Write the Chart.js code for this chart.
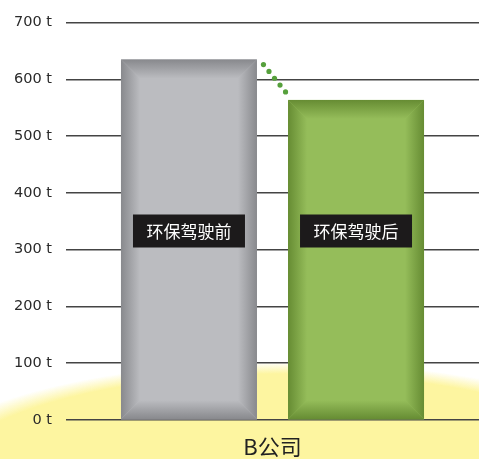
<!DOCTYPE html>
<html>
<head>
<meta charset="utf-8">
<script src="https://cdn.jsdelivr.net/npm/chart.js@4"></script>
<style>
  html, body { margin: 0; padding: 0; background: #fff; }
  #wrap { width: 479px; height: 459px; }
</style>
</head>
<body>
<div id="wrap"><canvas id="chart" width="479" height="459"></canvas></div>
<script>
// Data
const categories = ['B公司'];
const seriesNames = ['环保驾驶前', '环保驾驶后'];
const beforeValues = [635];
const afterValues = [564];
const tickValues = [0, 100, 200, 300, 400, 500, 600, 700];

const faceColors = ['#bbbcc0', '#95bd5a'];
const edgeColors = ['#88898d', '#668c33'];

// Soft yellow glow behind the bottom of the chart
const glowPlugin = {
    id: 'glow',
    beforeDraw(chart) {
        const ctx = chart.ctx;
        ctx.save();
        ctx.translate(285, 480);
        ctx.scale(1, 118 / 380);
        const g = ctx.createRadialGradient(0, 0, 0, 0, 0, 380);
        g.addColorStop(0, 'rgba(253,245,160,1)');
        g.addColorStop(0.9, 'rgba(253,245,160,1)');
        g.addColorStop(1, 'rgba(253,245,160,0)');
        ctx.fillStyle = g;
        ctx.beginPath();
        ctx.arc(0, 0, 380, 0, Math.PI * 2);
        ctx.fill();
        ctx.restore();
    }
};

function bevel(ctx, x0, y0, x1, y1, face, edge, w) {
    ctx.fillStyle = face;
    ctx.fillRect(x0, y0, x1 - x0, y1 - y0);
    const sides = [
        // top
        { pts: [[x0, y0], [x1, y0], [x1 - w, y0 + w], [x0 + w, y0 + w]], g: [x0, y0, x0, y0 + w] },
        // bottom
        { pts: [[x0, y1], [x1, y1], [x1 - w, y1 - w], [x0 + w, y1 - w]], g: [x0, y1, x0, y1 - w] },
        // left
        { pts: [[x0, y0], [x0 + w, y0 + w], [x0 + w, y1 - w], [x0, y1]], g: [x0, y0, x0 + w, y0] },
        // right
        { pts: [[x1, y0], [x1 - w, y0 + w], [x1 - w, y1 - w], [x1, y1]], g: [x1, y0, x1 - w, y0] }
    ];
    sides.forEach(s => {
        const gr = ctx.createLinearGradient(...s.g);
        gr.addColorStop(0, edge);
        gr.addColorStop(1, face);
        ctx.fillStyle = gr;
        ctx.beginPath();
        ctx.moveTo(...s.pts[0]);
        for (let i = 1; i < s.pts.length; i++) ctx.lineTo(...s.pts[i]);
        ctx.closePath();
        ctx.fill();
    });
}

// Bevelled bars, name tags and the dotted connector
const decorPlugin = {
    id: 'decor',
    afterDatasetsDraw(chart) {
        const ctx = chart.ctx;
        const yScale = chart.scales.y;
        const bars = chart.data.datasets.map((ds, i) => chart.getDatasetMeta(i).data[0]);
        ctx.save();
        bars.forEach((b, i) => {
            const x0 = b.x - b.width / 2, x1 = b.x + b.width / 2;
            bevel(ctx, x0, b.y, x1, b.base, faceColors[i], edgeColors[i], 19);
        });
        // name tags
        const tagY = yScale.getPixelForValue(333);
        bars.forEach((b, i) => {
            ctx.fillStyle = '#1c1a1b';
            ctx.fillRect(b.x - 56, tagY - 16.5, 112, 33);
            ctx.fillStyle = '#ffffff';
            ctx.font = '17px "Noto Sans CJK SC"';
            ctx.textAlign = 'center';
            ctx.textBaseline = 'middle';
            ctx.fillText(chart.data.datasets[i].label, b.x, tagY + 1);
        });
        // dotted connector between bar tops
        const a = bars[0], c = bars[1];
        const sx = a.x + a.width / 2 + 6.5, sy = a.y + 5;
        const ex = c.x - c.width / 2 - 2.5, ey = c.y - 8;
        ctx.fillStyle = '#56a03c';
        for (let k = 0; k < 5; k++) {
            const t = k / 4;
            ctx.beginPath();
            ctx.arc(sx + (ex - sx) * t, sy + (ey - sy) * t, 2.6, 0, Math.PI * 2);
            ctx.fill();
        }
        ctx.restore();
    }
};

const chartData = {
    labels: categories,
    datasets: [
        { label: seriesNames[0], data: beforeValues, backgroundColor: faceColors[0], borderWidth: 0 },
        { label: seriesNames[1], data: afterValues, backgroundColor: faceColors[1], borderWidth: 0 }
    ]
};

const config = {
    type: 'bar',
    data: chartData,
    options: {
        responsive: false,
        animation: false,
        events: [],
        categoryPercentage: 0.809,
        barPercentage: 0.814,
        layout: { padding: { top: 15, right: 0, left: 0, bottom: 0 } },
        plugins: {
            legend: { display: false },
            tooltip: { enabled: false }
        },
        scales: {
            x: {
                grid: { display: false },
                border: { display: false },
                ticks: {
                    color: '#222',
                    padding: 5,
                    font: { family: '"Noto Sans CJK SC"', size: 22 }
                },
                afterFit(scale) { scale.height = 39; }
            },
            y: {
                min: 0,
                max: 700,
                afterBuildTicks(scale) {
                    scale.ticks = tickValues.map(v => ({ value: v }));
                },
                grid: { color: '#444', lineWidth: 1.5, drawTicks: false },
                border: { display: false },
                ticks: {
                    color: '#2a2a2a',
                    padding: 14,
                    font: { family: '"DejaVu Sans"', size: 14.5 },
                    callback: v => v + ' t'
                },
                afterFit(scale) { scale.width = 66; }
            }
        }
    },
    plugins: [glowPlugin, decorPlugin]
};

const chart = new Chart(document.getElementById('chart'), config);
</script>
</body>
</html>
